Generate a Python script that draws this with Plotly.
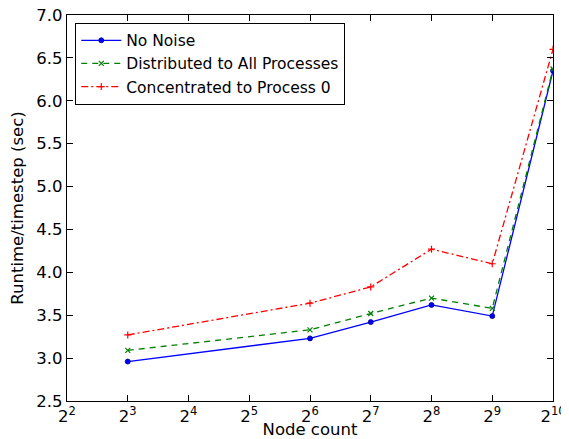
import plotly.graph_objects as go

nodes = [8, 64, 128, 256, 512, 1024]
no_noise = [2.96, 3.23, 3.42, 3.62, 3.49, 6.35]
distributed = [3.09, 3.33, 3.52, 3.70, 3.58, 6.37]
concentrated = [3.27, 3.64, 3.83, 4.27, 4.10, 6.60]
x_tick_vals = [4, 8, 16, 32, 64, 128, 256, 512, 1024]
x_tick_text = ["2<sup>%d</sup>" % e for e in range(2, 11)]
y_tick_vals = [2.5, 3.0, 3.5, 4.0, 4.5, 5.0, 5.5, 6.0, 6.5, 7.0]

FONT = "DejaVu Sans"

fig = go.Figure()
fig.add_trace(go.Scatter(x=nodes, y=no_noise, name="No Noise", mode="lines+markers",
                         line=dict(color="#0000ff", width=1.3),
                         marker=dict(symbol="circle", size=5, color="#0000ff",
                                     line=dict(color="#000080", width=0.8))))
fig.add_trace(go.Scatter(x=nodes, y=distributed, name="Distributed to All Processes", mode="lines+markers",
                         line=dict(color="#008000", width=1.3, dash="6px,5px"),
                         marker=dict(symbol="x-thin", size=5, color="#008000",
                                     line=dict(color="#008000", width=1.2))))
fig.add_trace(go.Scatter(x=nodes, y=concentrated, name="Concentrated to Process 0", mode="lines+markers",
                         line=dict(color="#ff0000", width=1.3, dash="7px,3px,2px,3px"),
                         marker=dict(symbol="cross-thin", size=5, color="#ff0000",
                                     line=dict(color="#ff0000", width=1.2))))

axis_common = dict(showline=True, linecolor="black", linewidth=1.2, mirror="ticks",
                   ticks="inside", ticklen=6, tickcolor="black", showgrid=False, zeroline=False,
                   automargin=False,
                   tickfont=dict(family=FONT, size=16.5, color="black"))

fig.update_xaxes(type="log", range=[0.60206, 3.0103], tickvals=x_tick_vals, ticktext=x_tick_text,
                 ticklabeloverflow="allow",
                 title=dict(text="Node count", font=dict(family=FONT, size=16.5, color="black"), standoff=0),
                 **axis_common)
fig.update_yaxes(range=[2.5, 7.0], tickvals=y_tick_vals, tickformat=".1f",
                 ticklabeloverflow="allow",
                 title=dict(text="Runtime/timestep (sec)", font=dict(family=FONT, size=16.5, color="black"), standoff=8),
                 **axis_common)

# page body has an 8px margin, so the figure is offset and margins shifted accordingly
fig.update_layout(width=569, height=431, plot_bgcolor="white", paper_bgcolor="white",
                  margin=dict(l=59, r=24, t=7, b=38),
                  font=dict(family=FONT, size=16.5, color="black"),
                  legend=dict(x=0.017, y=0.98, xanchor="left", yanchor="top",
                              bgcolor="white", bordercolor="black", borderwidth=1,
                              font=dict(family=FONT, size=15.5, color="black"),
                              tracegroupgap=0, itemwidth=40))

fig.write_html("out.html")
